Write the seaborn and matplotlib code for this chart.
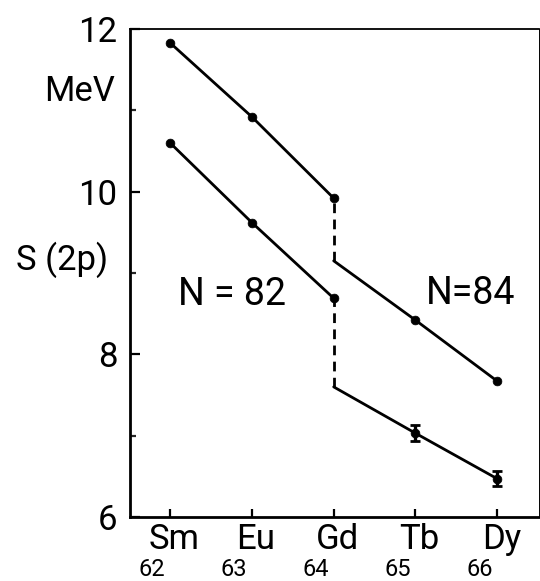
import matplotlib
matplotlib.use("Agg")
import matplotlib.pyplot as plt
import matplotlib.transforms as mtransforms
import seaborn as sns
import pandas as pd
import numpy as np

# ---- data ----
z = [62, 63, 64, 65, 66]
elements = ["Sm", "Eu", "Gd", "Tb", "Dy"]
upper = [11.83, 10.92, 9.92, 8.42, 7.67]
lower = [10.60, 9.62, 8.69, 7.03, 6.47]
lower_err = [0.0, 0.0, 0.0, 0.10, 0.09]
upper_gd_right = 9.15   # upper right branch extrapolated back to Gd
lower_gd_right = 7.60   # lower right branch extrapolated back to Gd
y_major = [6, 8, 10, 12]
y_minor = [7, 9, 11]

sns.set_theme(style="white")
plt.rcParams["font.family"] = ["Roboto", "DejaVu Sans"]

fig = plt.figure(figsize=(5.4, 5.81), dpi=100)
ax = fig.add_axes([130 / 540, 1 - 517 / 581, 409 / 540, 488 / 581])

lw = 2.0
# left branches (Sm, Eu, Gd)
left = pd.DataFrame({"z": z[:3] * 2,
                     "s": upper[:3] + lower[:3],
                     "g": ["u"] * 3 + ["l"] * 3})
sns.lineplot(data=left, x="z", y="s", units="g", estimator=None,
             color="black", lw=lw, ax=ax)
# right branches (Gd extrapolated, Tb, Dy)
right = pd.DataFrame({"z": [z[2]] + z[3:] + [z[2]] + z[3:],
                      "s": [upper_gd_right] + upper[3:] + [lower_gd_right] + lower[3:],
                      "g": ["u"] * 3 + ["l"] * 3})
sns.lineplot(data=right, x="z", y="s", units="g", estimator=None,
             color="black", lw=lw, ax=ax)
# dashed jumps at Gd
jump = pd.DataFrame({"z": [z[2], z[2], z[2], z[2]],
                     "s": [upper[2], upper_gd_right, lower[2], lower_gd_right],
                     "g": ["u", "u", "l", "l"]})
sns.lineplot(data=jump, x="z", y="s", units="g", estimator=None,
             color="black", lw=lw, ax=ax, dashes=False, linestyle=(0, (3.5, 2.3)))
# points
pts = pd.DataFrame({"z": z * 2, "s": upper + lower})
sns.scatterplot(data=pts, x="z", y="s", color="black", s=40,
                edgecolor="black", ax=ax, zorder=5)
# error bars
zz = [a for a, e in zip(z, lower_err) if e > 0]
ss = [b for b, e in zip(lower, lower_err) if e > 0]
ee = [e for e in lower_err if e > 0]
ax.errorbar(zz, ss, yerr=ee, fmt="none", ecolor="black", elinewidth=2.4,
            capsize=3.5, capthick=2.0, zorder=6)

ax.set_xlim(61.51, 66.51)
ax.set_ylim(6, 12)
ax.set_xlabel("")
ax.set_ylabel("")

# spines
for side, w in [("left", 2.0), ("bottom", 2.0), ("top", 1.3), ("right", 0.7)]:
    ax.spines[side].set_visible(True)
    ax.spines[side].set_linewidth(w)
    ax.spines[side].set_color("black")

ax.set_yticks(y_major)
ax.set_yticks(y_minor, minor=True)
ax.set_yticklabels([str(v) for v in y_major])
ax.set_xticks(z)
ax.set_xticklabels(elements)
ax.tick_params(axis="y", which="major", direction="in", length=7, width=1.6,
               labelsize=25, pad=9, colors="black", left=True, right=False)
ax.tick_params(axis="y", which="minor", direction="in", length=4, width=1.6,
               left=True, right=False)
ax.tick_params(axis="x", which="major", direction="in", length=6, width=1.6,
               labelsize=25, pad=4, colors="black", bottom=True, top=False)

# shift element labels slightly right (as in original)
offset = mtransforms.ScaledTranslation(4 / 100, 0, fig.dpi_scale_trans)
for lab in ax.get_xticklabels():
    lab.set_transform(lab.get_transform() + offset)

# atomic numbers below
trans = mtransforms.blended_transform_factory(ax.transData, fig.transFigure)
for zi in z:
    ax.text(zi - 0.22, 1 - 570 / 581, str(zi), transform=trans, ha="center",
            va="center", fontsize=17, color="black")

# axis texts
ax.text(61.51 - 15 / 81.75, 11.23, "MeV", ha="right", va="center",
        fontsize=25, color="black")
ax.text(61.51 - 22 / 81.75, 9.16, "S (2p)", ha="right", va="center",
        fontsize=25, color="black")
ax.text(62.76, 8.73, "N = 82", ha="center", va="center", fontsize=27,
        color="black")
ax.text(65.67, 8.75, "N=84", ha="center", va="center", fontsize=27,
        color="black")

fig.savefig("out.png", dpi=100)
